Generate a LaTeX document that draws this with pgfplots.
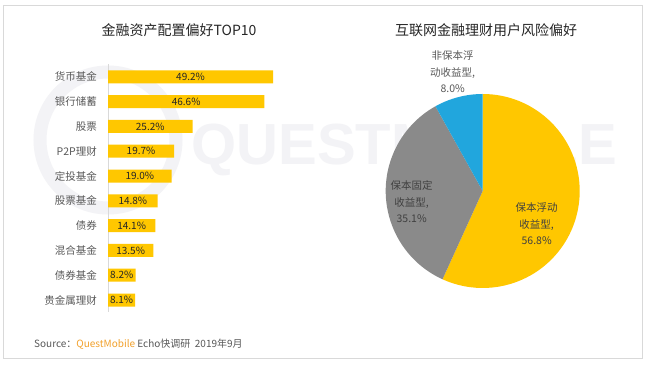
\documentclass[border=0pt]{standalone}
\usepackage{fontspec}
\setmainfont{Noto Sans CJK SC}
\usepackage{pgfplots}
\usepackage{pgfplotstable}
\pgfplotsset{compat=1.18}
\definecolor{baryellow}{HTML}{FFC700}
\definecolor{piegray}{HTML}{8A8A8A}
\definecolor{pieblue}{HTML}{21A6DD}
\definecolor{qmorange}{HTML}{F2A12C}
\definecolor{txtgray}{HTML}{595959}
\definecolor{lblgray}{HTML}{404040}
\definecolor{framegray}{HTML}{D9D9D9}
\definecolor{wm}{HTML}{F3F3F6}
\definecolor{titlec}{HTML}{262626}

\pgfplotstableread[col sep=comma]{
i,name,v
0,货币基金,49.2
1,银行储蓄,46.6
2,股票,25.2
3,P2P理财,19.7
4,定投基金,19.0
5,股票基金,14.8
6,债券,14.1
7,混合基金,13.5
8,债券基金,8.2
9,贵金属理财,8.1
}\bardata

\pgfplotstableread{
name v
float 56.8
fixed 35.1
nonguar 8.0
}\piedata
\pgfplotstablegetelem{0}{v}\of\piedata \let\pa\pgfplotsretval
\pgfplotstablegetelem{1}{v}\of\piedata \let\pb\pgfplotsretval
\pgfmathsetmacro\aA{90-3.6*\pa}
\pgfmathsetmacro\aB{\aA-3.6*\pb}

\begin{document}
\begin{tikzpicture}[x=1pt,y=1pt]
\useasboundingbox (0,0) rectangle (648,367);
\fill[white] (0,0) rectangle (648,367);
\draw[framegray, line width=0.8pt] (3.5,9) rectangle (642.5,361.5);
% watermark
\draw[wm, line width=13pt] (108,227) circle[radius=68pt];
\node[text=wm, font=\fontspec{Liberation Sans}\bfseries\fontsize{58}{58}\selectfont, anchor=center] at (404,217) {QUESTMOBILE};
% titles
\node[text=titlec, font=\fontsize{14}{16}\selectfont] at (179,337) {金融资产配置偏好TOP10};
\node[text=titlec, font=\fontsize{14}{16}\selectfont] at (486,337) {互联网金融理财用户风险偏好};

\begin{axis}[
  at={(108pt,54.6pt)}, anchor=south west,
  scale only axis, width=184.5pt, height=248pt,
  xmin=0, xmax=55, ymin=-0.5, ymax=9.5, y dir=reverse,
  axis x line=none, axis y line*=left,
  y axis line style={framegray, line width=0.8pt},
  ytick={0,...,9}, yticklabels from table={\bardata}{name},
  major tick length=0pt,
  yticklabel style={font=\fontsize{10.5}{12}\selectfont, text=txtgray, inner sep=0pt, xshift=-11pt},
  /pgf/number format/assume math mode=true,
  clip=false,
]
\addplot[xbar, bar width=13pt, bar shift=0pt, fill=baryellow, draw=none] table[x=v, y=i]{\bardata};
\addplot[draw=none, mark=none, point meta=explicit,
  nodes near coords={\pgfmathprintnumber[fixed, fixed zerofill, precision=1]{\pgfplotspointmeta}\%},
  every node near coord/.style={anchor=center, inner sep=0pt, font=\fontsize{10}{11}\selectfont, text=titlec}]
  table[x expr=\thisrow{v}/2, y=i, meta=v]{\bardata};
\end{axis}

\begin{axis}[
  at={(482.7pt,176pt)}, anchor=center,
  scale only axis, width=194pt, height=194pt,
  xmin=-1, xmax=1, ymin=-1, ymax=1,
  hide axis, clip=false,
]
\fill[baryellow] (axis cs:0,0) -- (axis cs:0,1) arc[start angle=90, end angle=\aA, radius=97pt] -- cycle;
\fill[piegray] (axis cs:0,0) -- (axis cs:{cos(\aA)},{sin(\aA)}) arc[start angle=\aA, end angle=\aB, radius=97pt] -- cycle;
\fill[pieblue] (axis cs:0,0) -- (axis cs:{cos(\aB)},{sin(\aB)}) arc[start angle=\aB, end angle=-270, radius=97pt] -- cycle;
\end{axis}

\node[align=center, text=txtgray, font=\fontsize{10.5}{16.5}\selectfont] at (452.7,295) {非保本浮\\动收益型,\\8.0\%};
\node[align=center, text=lblgray, font=\fontsize{10.5}{16.5}\selectfont] at (411.7,165) {保本固定\\收益型,\\35.1\%};
\node[align=center, text=lblgray, font=\fontsize{10.5}{16.5}\selectfont] at (536.7,143) {保本浮动\\收益型,\\56.8\%};

\node[anchor=base west, inner sep=0pt, font=\fontsize{10}{12}\selectfont] at (34,19.5)
  {\textcolor{txtgray}{Source：}\textcolor{qmorange}{QuestMobile} \textcolor{txtgray}{Echo快调研\ \ 2019年9月}};
\end{tikzpicture}
\end{document}
